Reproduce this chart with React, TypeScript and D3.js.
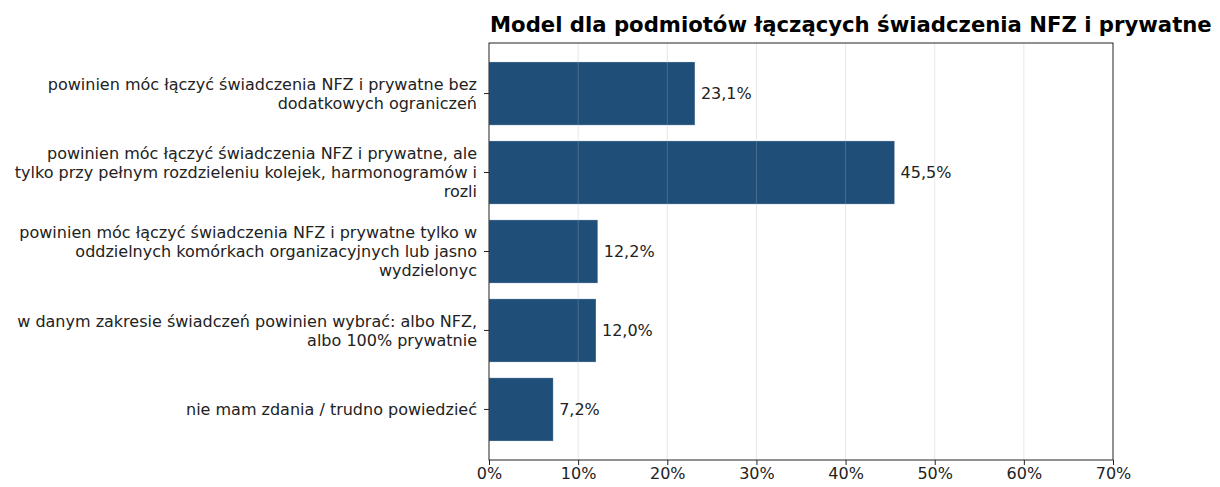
import React, { useEffect, useRef } from "react";
import * as d3 from "d3";

// data
const categories = [
  "powinien móc łączyć świadczenia NFZ i prywatne bez dodatkowych ograniczeń",
  "powinien móc łączyć świadczenia NFZ i prywatne, ale tylko przy pełnym rozdzieleniu kolejek, harmonogramów i rozli",
  "powinien móc łączyć świadczenia NFZ i prywatne tylko w oddzielnych komórkach organizacyjnych lub jasno wydzielonyc",
  "w danym zakresie świadczeń powinien wybrać: albo NFZ, albo 100% prywatnie",
  "nie mam zdania / trudno powiedzieć",
];
const categoryLines = [
  ["powinien móc łączyć świadczenia NFZ i prywatne bez", "dodatkowych ograniczeń"],
  [
    "powinien móc łączyć świadczenia NFZ i prywatne, ale",
    "tylko przy pełnym rozdzieleniu kolejek, harmonogramów i",
    "rozli",
  ],
  [
    "powinien móc łączyć świadczenia NFZ i prywatne tylko w",
    "oddzielnych komórkach organizacyjnych lub jasno",
    "wydzielonyc",
  ],
  ["w danym zakresie świadczeń powinien wybrać: albo NFZ,", "albo 100% prywatnie"],
  ["nie mam zdania / trudno powiedzieć"],
];
const values = [23.1, 45.5, 12.2, 12.0, 7.2];
const xTicks = [0, 10, 20, 30, 40, 50, 60, 70];
const title = "Model dla podmiotów łączących świadczenia NFZ i prywatne";

export default function App() {
  const ref = useRef<SVGSVGElement>(null);

  useEffect(() => {
    const svg = d3.select(ref.current);
    svg.selectAll("*").remove();

    const width = 1220;
    const height = 487;
    const margin = { top: 43, right: 107, bottom: 27, left: 489 };
    const font = "DejaVu Sans, sans-serif";
    const textColor = "#222";
    const fs = 16;

    const x = d3
      .scaleLinear()
      .domain([0, 70])
      .range([margin.left, width - margin.right]);

    // matplotlib-like: index positions with 0.8 bar height and 5% margins
    const y = d3
      .scaleLinear()
      .domain([-0.64, 4.64])
      .range([margin.top, height - margin.bottom]);
    const barH = y(0.4) - y(-0.4);

    svg
      .append("rect")
      .attr("x", 0)
      .attr("y", 0)
      .attr("width", width)
      .attr("height", height)
      .attr("fill", "#fff");

    // bars
    svg
      .append("g")
      .selectAll("rect")
      .data(values)
      .join("rect")
      .attr("x", x(0))
      .attr("y", (_, i) => y(i) - barH / 2)
      .attr("width", (d) => x(d) - x(0))
      .attr("height", barH)
      .attr("fill", "#1f4e79")
      .attr("stroke", "#ffffff")
      .attr("stroke-opacity", 0.35)
      .attr("stroke-width", 0.8);

    // grid on top of bars, faint
    svg
      .append("g")
      .selectAll("line")
      .data(xTicks.slice(1, -1))
      .join("line")
      .attr("x1", (d) => x(d))
      .attr("x2", (d) => x(d))
      .attr("y1", margin.top)
      .attr("y2", height - margin.bottom)
      .attr("stroke", "#b0b0b0")
      .attr("stroke-opacity", 0.3)
      .attr("stroke-width", 1);

    // value labels
    svg
      .append("g")
      .selectAll("text")
      .data(values)
      .join("text")
      .attr("x", (d) => x(d) + 6)
      .attr("y", (_, i) => y(i))
      .attr("dy", "0.35em")
      .attr("font-family", font)
      .attr("font-size", fs)
      .attr("fill", textColor)
      .text((d) => d.toFixed(1).replace(".", ",") + "%");

    // frame
    svg
      .append("rect")
      .attr("x", margin.left)
      .attr("y", margin.top)
      .attr("width", width - margin.right - margin.left)
      .attr("height", height - margin.bottom - margin.top)
      .attr("fill", "none")
      .attr("stroke", "#222")
      .attr("stroke-width", 1);

    // x axis
    const xAxis = svg
      .append("g")
      .attr("transform", `translate(0,${height - margin.bottom})`)
      .call(
        d3
          .axisBottom(x)
          .tickValues(xTicks)
          .tickSize(5)
          .tickPadding(3)
          .tickFormat((d) => `${d}%`)
      );
    xAxis.select(".domain").remove();
    xAxis.selectAll("line").attr("stroke", "#222");
    xAxis
      .selectAll("text")
      .attr("font-family", font)
      .attr("font-size", fs)
      .attr("fill", textColor);

    // y axis ticks
    svg
      .append("g")
      .selectAll("line")
      .data(categories)
      .join("line")
      .attr("x1", margin.left - 5)
      .attr("x2", margin.left)
      .attr("y1", (_, i) => y(i))
      .attr("y2", (_, i) => y(i))
      .attr("stroke", "#222");

    // y category labels, wrapped
    const lineH = 19;
    const labels = svg
      .append("g")
      .selectAll("text")
      .data(categoryLines)
      .join("text")
      .attr("text-anchor", "end")
      .attr("font-family", font)
      .attr("font-size", fs)
      .attr("fill", textColor);
    labels.each(function (lines, i) {
      const t = d3.select(this);
      const y0 = y(i) - ((lines.length - 1) * lineH) / 2;
      lines.forEach((l, j) => {
        t.append("tspan")
          .attr("x", margin.left - 12)
          .attr("y", y0 + j * lineH)
          .attr("dy", "0.35em")
          .text(l);
      });
    });

    // title
    svg
      .append("text")
      .attr("x", margin.left + 1)
      .attr("y", 32)
      .attr("font-family", font)
      .attr("font-size", 21.2)
      .attr("font-weight", "bold")
      .attr("fill", "#000")
      .text(title);
  }, []);

  return (
    <svg
      ref={ref}
      width={1220}
      height={487}
      style={{ position: "absolute", top: 0, left: 0 }}
    ></svg>
  );
}
